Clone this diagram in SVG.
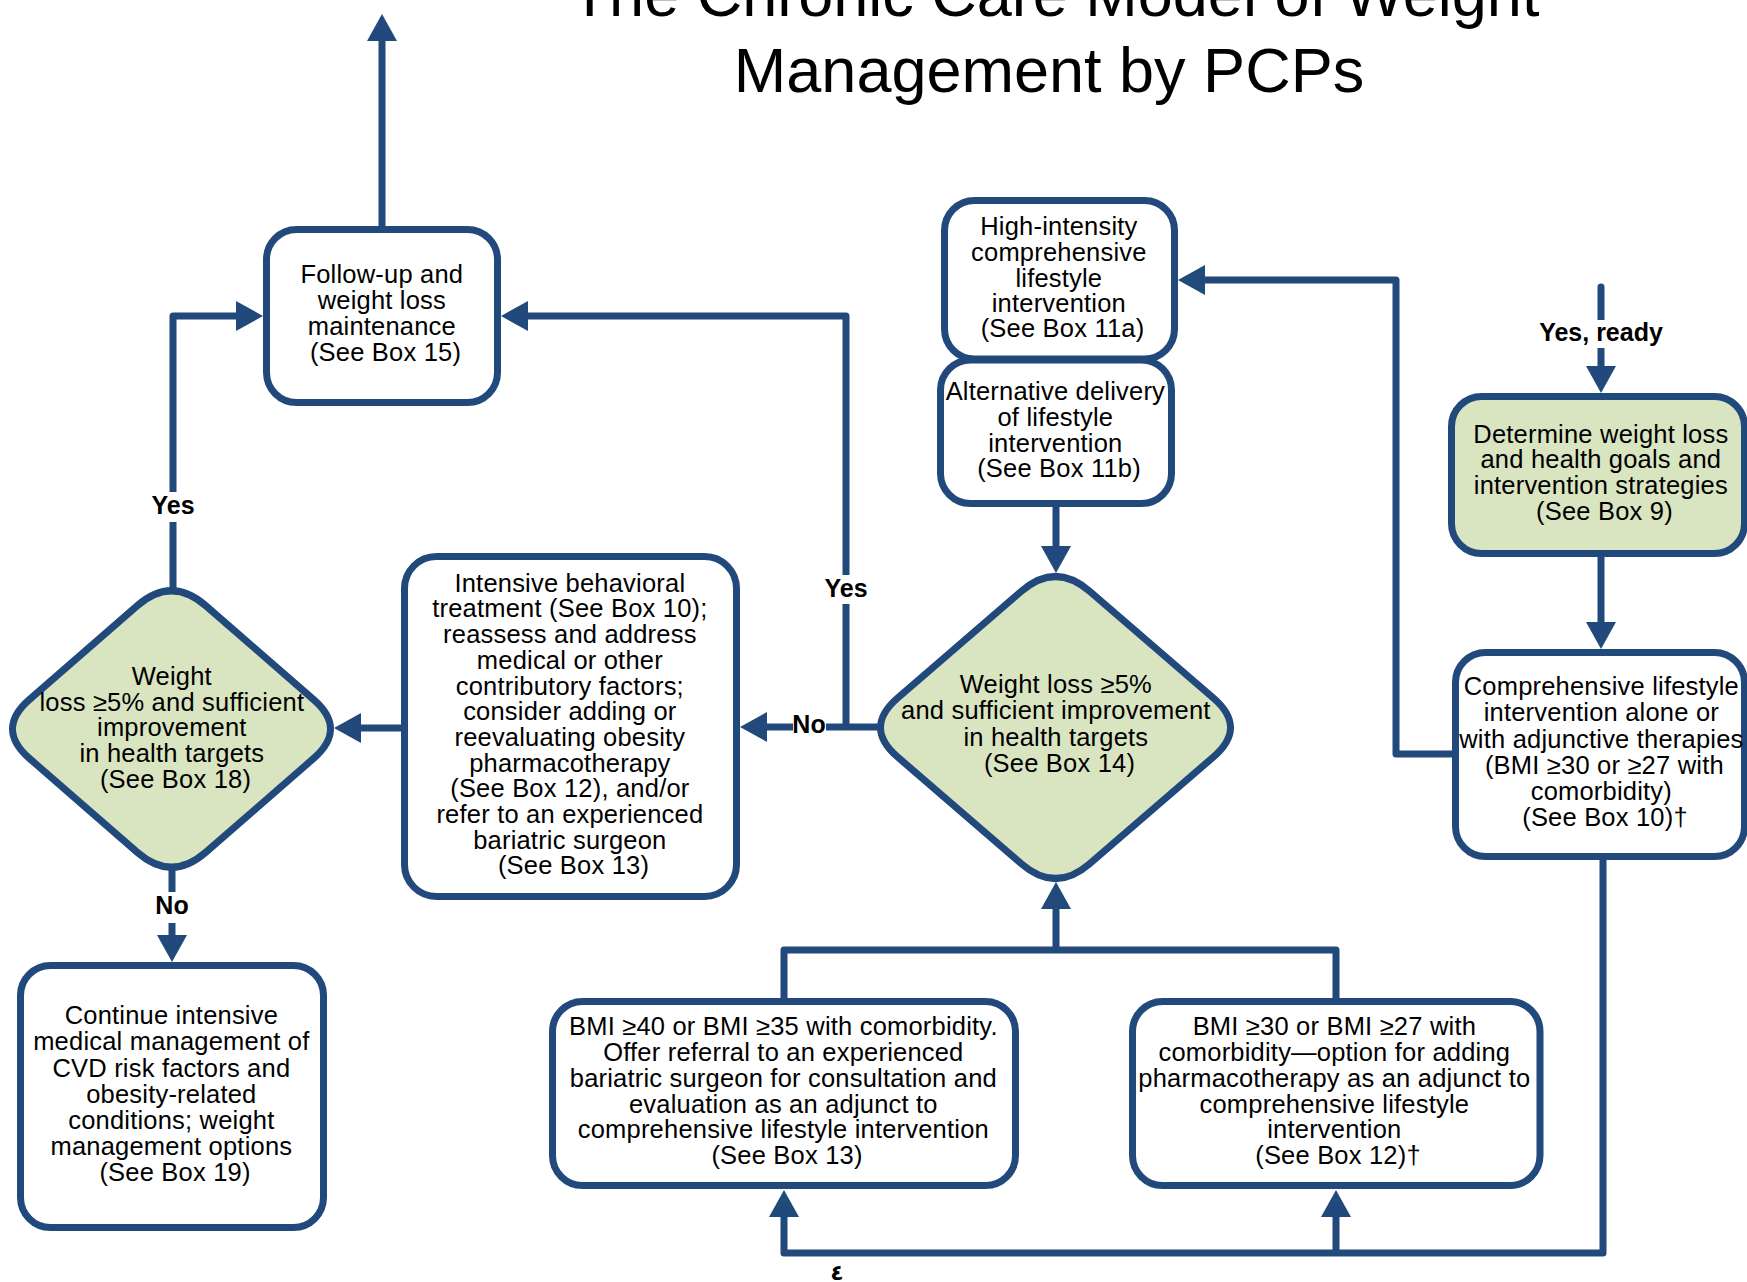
<svg xmlns="http://www.w3.org/2000/svg" width="1747" height="1282" viewBox="0 0 1747 1282">
  <defs>
    <style>
      .box { fill: #ffffff; stroke: #22497c; stroke-width: 7; }
      .green { fill: #d9e4c1; }
      .wire { fill: none; stroke: #22497c; stroke-width: 7; stroke-linejoin: round; }
      .txt { font-family: "Liberation Sans", Arial, sans-serif; font-size: 25.5px; letter-spacing: 0.2px; fill: #000000; text-anchor: middle; }
      .lbl { font-family: "Liberation Sans", Arial, sans-serif; font-size: 25px; font-weight: bold; fill: #000000; text-anchor: middle; }
      .title { font-family: "Liberation Sans", Arial, sans-serif; font-size: 63px; fill: #000000; text-anchor: middle; }
      .gap { fill: #ffffff; }
    </style>
    <marker id="arrow" markerUnits="userSpaceOnUse" markerWidth="27" markerHeight="30" viewBox="0 0 27 30" refX="1" refY="15" orient="auto">
      <path d="M0,0 L27,15 L0,30 Z" fill="#22497c"/>
    </marker>
  </defs>

  <rect width="1747" height="1282" fill="#ffffff"/>

  <!-- title -->
  <g id="title">
    <text class="title" x="1055" y="16">The Chronic Care Model of Weight</text>
    <text class="title" x="1049" y="92">Management by PCPs</text>
  </g>

  <!-- connectors -->
  <g id="connectors">
    <path class="wire" d="M382,229 L382,40" marker-end="url(#arrow)"/>
    <path class="wire" d="M173,591 L173,316 L237,316" marker-end="url(#arrow)"/>
    <path class="wire" d="M172,868 L172,936" marker-end="url(#arrow)"/>
    <path class="wire" d="M404,728 L360,728" marker-end="url(#arrow)"/>
    <path class="wire" d="M880,727 L766,727" marker-end="url(#arrow)"/>
    <path class="wire" d="M846,727 L846,316 L527,316" marker-end="url(#arrow)"/>
    <path class="wire" d="M1056,507 L1056,547" marker-end="url(#arrow)"/>
    <path class="wire" d="M1452,754 L1396,754 L1396,280 L1204,280" marker-end="url(#arrow)"/>
    <path class="wire" d="M1601,287 L1601,367" stroke-linecap="round" marker-end="url(#arrow)"/>
    <path class="wire" d="M1601,557 L1601,623" marker-end="url(#arrow)"/>
    <path class="wire" d="M1603,858 L1603,1253 L784,1253 L784,1216" marker-end="url(#arrow)"/>
    <path class="wire" d="M1336,1253 L1336,1216" marker-end="url(#arrow)"/>
    <path class="wire" d="M784,998 L784,950 L1336,950 L1336,998"/>
    <path class="wire" d="M1056,950 L1056,908" marker-end="url(#arrow)"/>

    <rect class="gap" x="150" y="492" width="46" height="30"/>
    <text class="lbl" x="173" y="514">Yes</text>
    <rect class="gap" x="153" y="892" width="38" height="31"/>
    <text class="lbl" x="172" y="914">No</text>
    <rect class="gap" x="823" y="575" width="46" height="29"/>
    <text class="lbl" x="846" y="597">Yes</text>
    <rect class="gap" x="793" y="712" width="33" height="30"/>
    <text class="lbl" x="809" y="733">No</text>
    <rect class="gap" x="1538" y="320" width="127" height="28"/>
    <text class="lbl" x="1601" y="341">Yes, ready</text>
  </g>

  <!-- nodes -->
  <g id="follow-up">
    <rect class="box" x="266.5" y="229.5" width="231" height="173" rx="30"/>
    <text class="txt">
      <tspan x="385.5" y="283">Follow-up and</tspan>
      <tspan x="385.5" y="309">weight loss</tspan>
      <tspan x="385.5" y="335">maintenance</tspan>
      <tspan x="385.5" y="361">(See Box 15)</tspan>
    </text>
  </g>

  <g id="decision-box18">
    <path class="box green" d="M137.5,605.5 Q171.5,576 205.5,605.5 L313.5,699.5 Q347.5,729 313.5,758.5 L205.5,852.5 Q171.5,882 137.5,852.5 L29.5,758.5 Q-4.5,729 29.5,699.5 Z"/>
    <text class="txt">
      <tspan x="175.5" y="685">Weight</tspan>
      <tspan x="175.5" y="710.5">loss ≥5% and sufficient</tspan>
      <tspan x="175.5" y="736">improvement</tspan>
      <tspan x="175.5" y="762">in health targets</tspan>
      <tspan x="175.5" y="788">(See Box 18)</tspan>
    </text>
  </g>

  <g id="continue-management">
    <rect class="box" x="20.5" y="965.5" width="303" height="262" rx="30"/>
    <text class="txt">
      <tspan x="175" y="1024">Continue intensive</tspan>
      <tspan x="175" y="1050">medical management of</tspan>
      <tspan x="175" y="1077">CVD risk factors and</tspan>
      <tspan x="175" y="1103">obesity-related</tspan>
      <tspan x="175" y="1129">conditions; weight</tspan>
      <tspan x="175" y="1155">management options</tspan>
      <tspan x="175" y="1181">(See Box 19)</tspan>
    </text>
  </g>

  <g id="intensive-treatment">
    <rect class="box" x="404.5" y="556.5" width="332" height="340" rx="32"/>
    <text class="txt">
      <tspan x="573.5" y="591.7">Intensive behavioral</tspan>
      <tspan x="573.5" y="617.4">treatment (See Box 10);</tspan>
      <tspan x="573.5" y="643.1">reassess and address</tspan>
      <tspan x="573.5" y="668.8">medical or other</tspan>
      <tspan x="573.5" y="694.5">contributory factors;</tspan>
      <tspan x="573.5" y="720.2">consider adding or</tspan>
      <tspan x="573.5" y="745.9">reevaluating obesity</tspan>
      <tspan x="573.5" y="771.6">pharmacotherapy</tspan>
      <tspan x="573.5" y="797.3">(See Box 12), and/or</tspan>
      <tspan x="573.5" y="823">refer to an experienced</tspan>
      <tspan x="573.5" y="848.7">bariatric surgeon</tspan>
      <tspan x="573.5" y="874.4">(See Box 13)</tspan>
    </text>
  </g>

  <g id="high-intensity">
    <rect class="box" x="944.5" y="200.5" width="230" height="158.5" rx="30"/>
    <text class="txt">
      <tspan x="1062.5" y="235">High-intensity</tspan>
      <tspan x="1062.5" y="261">comprehensive</tspan>
      <tspan x="1062.5" y="286.7">lifestyle</tspan>
      <tspan x="1062.5" y="311.7">intervention</tspan>
      <tspan x="1062.5" y="337.3">(See Box 11a)</tspan>
    </text>
  </g>

  <g id="alternative-delivery">
    <rect class="box" x="940.5" y="360" width="231" height="143.5" rx="30"/>
    <text class="txt">
      <tspan x="1059" y="400">Alternative delivery</tspan>
      <tspan x="1059" y="426">of lifestyle</tspan>
      <tspan x="1059" y="451.5">intervention</tspan>
      <tspan x="1059" y="477">(See Box 11b)</tspan>
    </text>
  </g>

  <g id="decision-box14">
    <path class="box green" d="M1021.5,591.2 Q1055.5,561.8 1089.5,591.2 L1213.5,698.1 Q1247.5,727.5 1213.5,756.9 L1089.5,863.8 Q1055.5,893.2 1021.5,863.8 L897.5,756.9 Q863.5,727.5 897.5,698.1 Z"/>
    <text class="txt">
      <tspan x="1059.5" y="693">Weight loss ≥5%</tspan>
      <tspan x="1059.5" y="719">and sufficient improvement</tspan>
      <tspan x="1059.5" y="745.7">in health targets</tspan>
      <tspan x="1059.5" y="771.7">(See Box 14)</tspan>
    </text>
  </g>

  <g id="determine-goals">
    <rect class="box green" x="1451.5" y="396.5" width="293" height="157" rx="30"/>
    <text class="txt">
      <tspan x="1604.5" y="442.7">Determine weight loss</tspan>
      <tspan x="1604.5" y="468.3">and health goals and</tspan>
      <tspan x="1604.5" y="494">intervention strategies</tspan>
      <tspan x="1604.5" y="519.6">(See Box 9)</tspan>
    </text>
  </g>

  <g id="comprehensive-lifestyle">
    <rect class="box" x="1455.5" y="652.5" width="289" height="204" rx="30"/>
    <text class="txt">
      <tspan x="1605" y="695">Comprehensive lifestyle</tspan>
      <tspan x="1605" y="721">intervention alone or</tspan>
      <tspan x="1605" y="747.7">with adjunctive therapies</tspan>
      <tspan x="1608" y="774">(BMI ≥30 or ≥27 with</tspan>
      <tspan x="1605" y="800">comorbidity)</tspan>
      <tspan x="1605" y="825.7">(See Box 10)†</tspan>
    </text>
  </g>

  <g id="bariatric-referral">
    <rect class="box" x="552.5" y="1001.5" width="463" height="184" rx="30"/>
    <text class="txt">
      <tspan x="787" y="1035">BMI ≥40 or BMI ≥35 with comorbidity.</tspan>
      <tspan x="787" y="1061">Offer referral to an experienced</tspan>
      <tspan x="787" y="1086.7">bariatric surgeon for consultation and</tspan>
      <tspan x="787" y="1112.7">evaluation as an adjunct to</tspan>
      <tspan x="787" y="1138.3">comprehensive lifestyle intervention</tspan>
      <tspan x="787" y="1164.3">(See Box 13)</tspan>
    </text>
  </g>

  <g id="pharmacotherapy">
    <rect class="box" x="1132.5" y="1001.5" width="407.5" height="184" rx="30"/>
    <text class="txt">
      <tspan x="1338" y="1035">BMI ≥30 or BMI ≥27 with</tspan>
      <tspan x="1338" y="1061">comorbidity—option for adding</tspan>
      <tspan x="1338" y="1086.7">pharmacotherapy as an adjunct to</tspan>
      <tspan x="1338" y="1112.7">comprehensive lifestyle</tspan>
      <tspan x="1338" y="1138.3">intervention</tspan>
      <tspan x="1338" y="1164.3">(See Box 12)†</tspan>
    </text>
  </g>

  <text x="837" y="1280" font-family="'DejaVu Sans', sans-serif" font-size="22" font-weight="bold" text-anchor="middle" fill="#000000">٤</text>
</svg>
